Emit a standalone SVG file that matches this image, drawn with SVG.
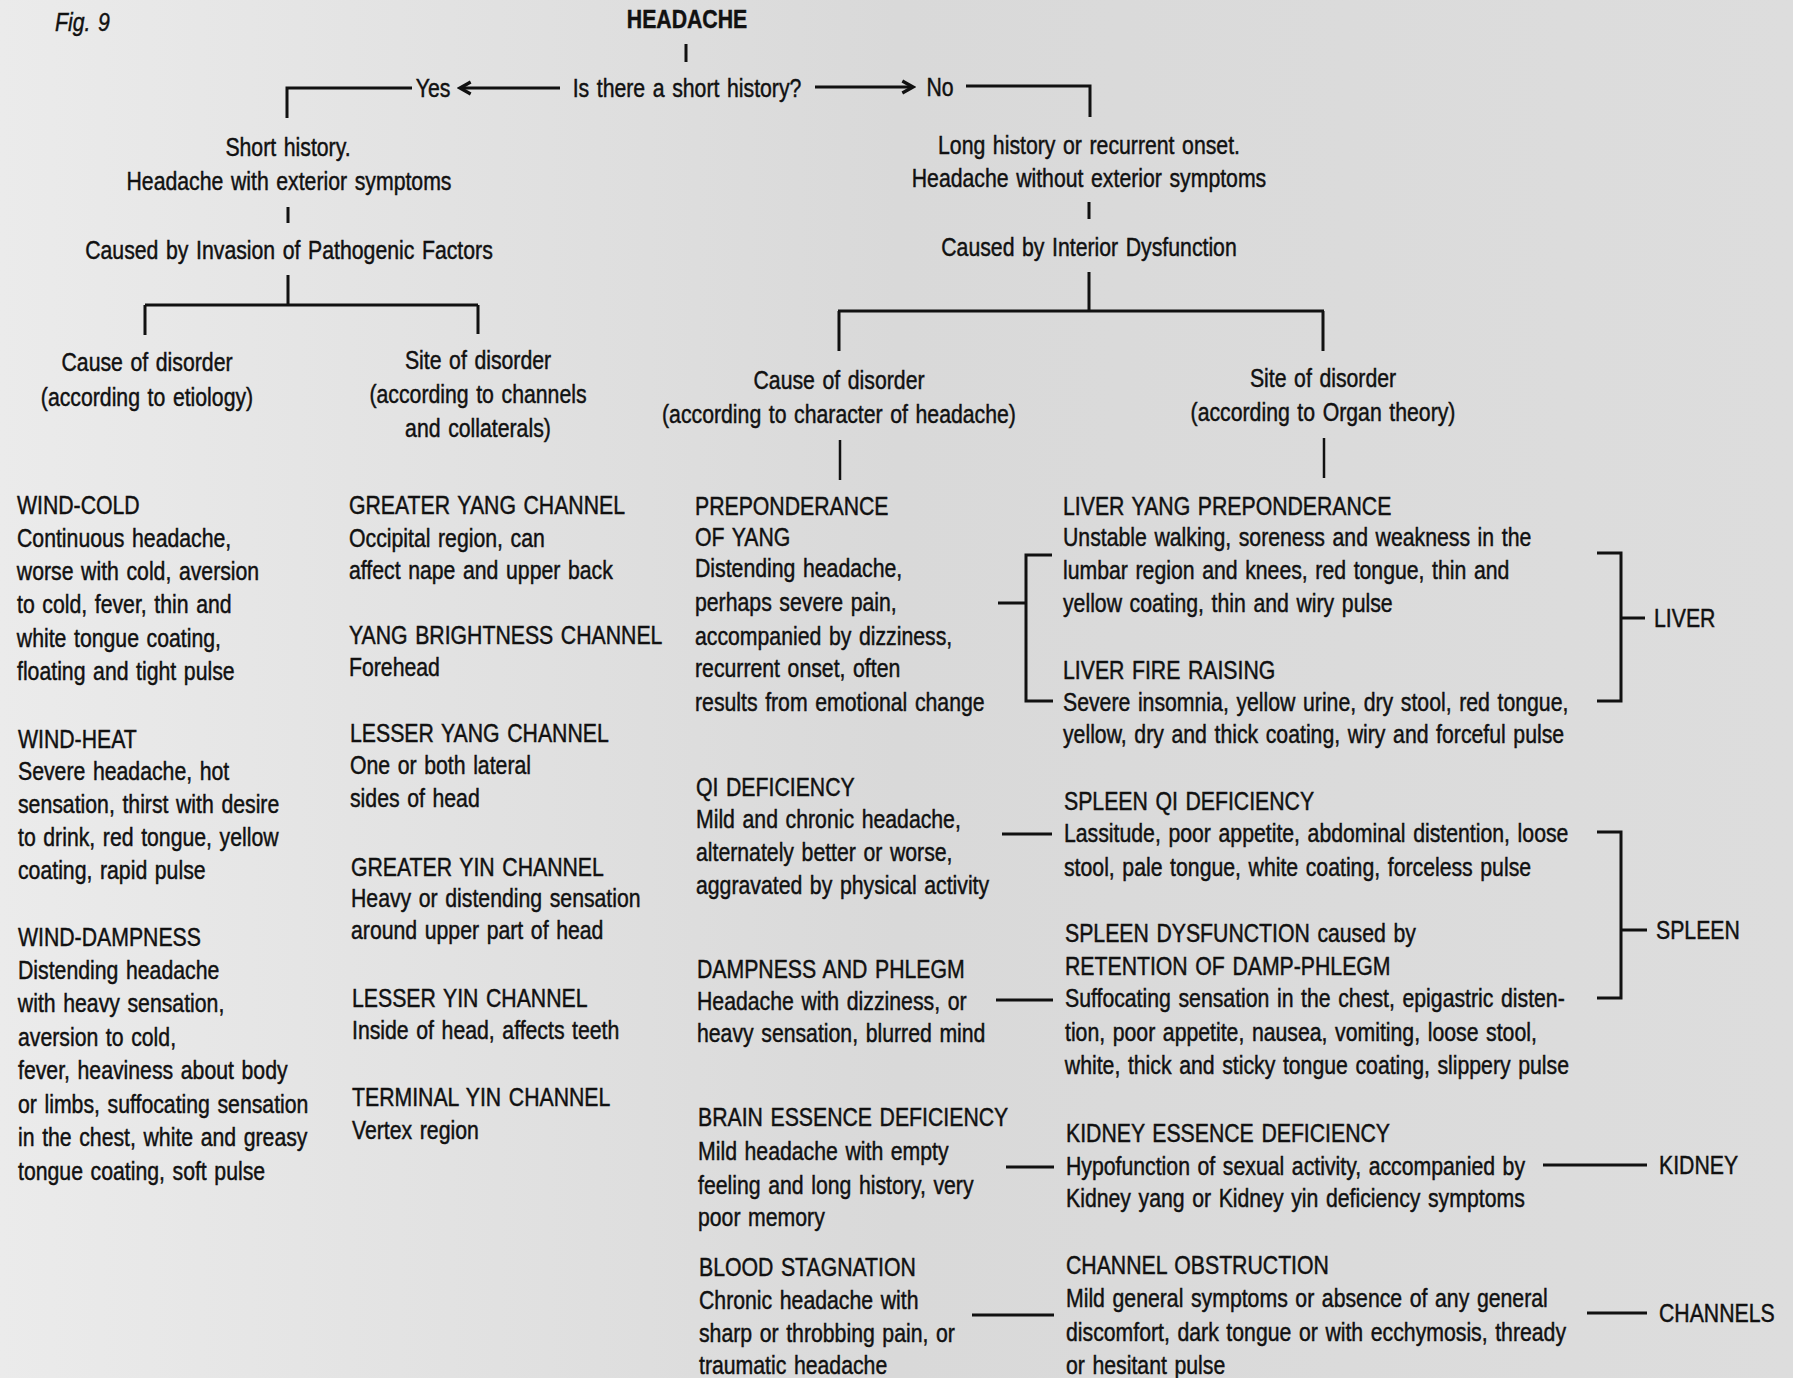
<svg xmlns="http://www.w3.org/2000/svg" width="1793" height="1378" viewBox="0 0 1793 1378">
<style>
.t{font-family:"Liberation Sans",Arial,sans-serif;font-size:25px;fill:#111;stroke:#111;stroke-width:0.45;word-spacing:2px;transform-box:fill-box;transform-origin:0 0;transform:scaleX(0.85)}
.c{text-anchor:middle;transform-origin:50% 0}
.b{font-weight:bold}
.ln{fill:none;stroke:#111;stroke-width:3}
.thin{stroke-width:2.5}
</style>
<defs>
<linearGradient id="bg" x1="0" y1="0" x2="1" y2="0">
<stop offset="0" stop-color="#ebebeb"/>
<stop offset="0.5" stop-color="#d9d9d9"/>
<stop offset="1" stop-color="#dddddd"/>
</linearGradient>
<marker id="ah" viewBox="0 0 12 12" refX="10" refY="6" markerWidth="16" markerHeight="16" markerUnits="userSpaceOnUse" orient="auto">
<path d="M2,1.5 L10,6 L2,10.5" fill="none" stroke="#111" stroke-width="2.4"/>
</marker>
</defs>
<rect x="0" y="0" width="1793" height="1378" fill="url(#bg)"/>

<text class="t" x="55" y="31" font-style="italic" font-size="23">Fig. 9</text>

<g id="connectors">
<path class="ln" d="M686 44V62"/>
<path class="ln" d="M560 88H460" marker-end="url(#ah)"/>
<path class="ln" d="M815 87H913" marker-end="url(#ah)"/>
<path class="ln" d="M412 88H287V118"/>
<path class="ln" d="M966 86H1090V117"/>
<path class="ln" d="M288 207V223"/>
<path class="ln" d="M288 275V305M145 305H478M145 305V335M478 305V334"/>
<path class="ln" d="M1089 202V219"/>
<path class="ln" d="M1089 272V311M838 311H1324M839 311V351M1323 311V351"/>
<path class="ln thin" d="M840 440V480"/>
<path class="ln thin" d="M1324 438V478"/>
<path class="ln" d="M998 603H1026M1052 555H1026V701H1053"/>
<path class="ln" d="M1597 553H1621V701H1597M1621 618H1645"/>
<path class="ln" d="M1002 834H1052"/>
<path class="ln" d="M996 1000H1053"/>
<path class="ln" d="M1597 832H1621V998H1597M1621 930H1647"/>
<path class="ln" d="M1006 1167H1054M1543 1165H1647"/>
<path class="ln" d="M972 1315H1054M1587 1313H1647"/>
</g>

<g id="headache"><text class="t c b" x="687" y="28">HEADACHE</text></g>
<g id="question"><text class="t c" x="687" y="97">Is there a short history?</text></g>
<g id="yes"><text class="t c" x="433" y="97">Yes</text></g>
<g id="no"><text class="t c" x="940" y="96">No</text></g>

<g id="short-history">
<text class="t c" x="288" y="156">Short history.</text>
<text class="t c" x="289" y="190">Headache with exterior symptoms</text>
</g>
<g id="caused-invasion"><text class="t c" x="289" y="259">Caused by Invasion of Pathogenic Factors</text></g>
<g id="cause-etiology">
<text class="t c" x="147" y="371">Cause of disorder</text>
<text class="t c" x="147" y="406">(according to etiology)</text>
</g>
<g id="site-channels">
<text class="t c" x="478" y="369">Site of disorder</text>
<text class="t c" x="478" y="403">(according to channels</text>
<text class="t c" x="478" y="437">and collaterals)</text>
</g>

<g id="long-history">
<text class="t c" x="1089" y="154">Long history or recurrent onset.</text>
<text class="t c" x="1089" y="187">Headache without exterior symptoms</text>
</g>
<g id="caused-interior"><text class="t c" x="1089" y="256">Caused by Interior Dysfunction</text></g>
<g id="cause-character">
<text class="t c" x="839" y="389">Cause of disorder</text>
<text class="t c" x="839" y="423">(according to character of headache)</text>
</g>
<g id="site-organ">
<text class="t c" x="1323" y="387">Site of disorder</text>
<text class="t c" x="1323" y="421">(according to Organ theory)</text>
</g>

<g id="wind-cold">
<text class="t" x="17" y="514">WIND-COLD</text>
<text class="t" x="17" y="547">Continuous headache,</text>
<text class="t" x="17" y="580">worse with cold, aversion</text>
<text class="t" x="17" y="613">to cold, fever, thin and</text>
<text class="t" x="17" y="647">white tongue coating,</text>
<text class="t" x="17" y="680">floating and tight pulse</text>
</g>
<g id="wind-heat">
<text class="t" x="18" y="748">WIND-HEAT</text>
<text class="t" x="18" y="780">Severe headache, hot</text>
<text class="t" x="18" y="813">sensation, thirst with desire</text>
<text class="t" x="18" y="846">to drink, red tongue, yellow</text>
<text class="t" x="18" y="879">coating, rapid pulse</text>
</g>
<g id="wind-dampness">
<text class="t" x="18" y="946">WIND-DAMPNESS</text>
<text class="t" x="18" y="979">Distending headache</text>
<text class="t" x="18" y="1012">with heavy sensation,</text>
<text class="t" x="18" y="1046">aversion to cold,</text>
<text class="t" x="18" y="1079">fever, heaviness about body</text>
<text class="t" x="18" y="1113">or limbs, suffocating sensation</text>
<text class="t" x="18" y="1146">in the chest, white and greasy</text>
<text class="t" x="18" y="1180">tongue coating, soft pulse</text>
</g>

<g id="greater-yang">
<text class="t" x="349" y="514">GREATER YANG CHANNEL</text>
<text class="t" x="349" y="547">Occipital region, can</text>
<text class="t" x="349" y="579">affect nape and upper back</text>
</g>
<g id="yang-brightness">
<text class="t" x="349" y="644">YANG BRIGHTNESS CHANNEL</text>
<text class="t" x="349" y="676">Forehead</text>
</g>
<g id="lesser-yang">
<text class="t" x="350" y="742">LESSER YANG CHANNEL</text>
<text class="t" x="350" y="774">One or both lateral</text>
<text class="t" x="350" y="807">sides of head</text>
</g>
<g id="greater-yin">
<text class="t" x="351" y="876">GREATER YIN CHANNEL</text>
<text class="t" x="351" y="907">Heavy or distending sensation</text>
<text class="t" x="351" y="939">around upper part of head</text>
</g>
<g id="lesser-yin">
<text class="t" x="352" y="1007">LESSER YIN CHANNEL</text>
<text class="t" x="352" y="1039">Inside of head, affects teeth</text>
</g>
<g id="terminal-yin">
<text class="t" x="352" y="1106">TERMINAL YIN CHANNEL</text>
<text class="t" x="352" y="1139">Vertex region</text>
</g>

<g id="preponderance-yang">
<text class="t" x="695" y="515">PREPONDERANCE</text>
<text class="t" x="695" y="546">OF YANG</text>
<text class="t" x="695" y="577">Distending headache,</text>
<text class="t" x="695" y="611">perhaps severe pain,</text>
<text class="t" x="695" y="645">accompanied by dizziness,</text>
<text class="t" x="695" y="677">recurrent onset, often</text>
<text class="t" x="695" y="711">results from emotional change</text>
</g>
<g id="qi-deficiency">
<text class="t" x="696" y="796">QI DEFICIENCY</text>
<text class="t" x="696" y="828">Mild and chronic headache,</text>
<text class="t" x="696" y="861">alternately better or worse,</text>
<text class="t" x="696" y="894">aggravated by physical activity</text>
</g>
<g id="dampness-phlegm">
<text class="t" x="697" y="978">DAMPNESS AND PHLEGM</text>
<text class="t" x="697" y="1010">Headache with dizziness, or</text>
<text class="t" x="697" y="1042">heavy sensation, blurred mind</text>
</g>
<g id="brain-essence">
<text class="t" x="698" y="1126">BRAIN ESSENCE DEFICIENCY</text>
<text class="t" x="698" y="1160">Mild headache with empty</text>
<text class="t" x="698" y="1194">feeling and long history, very</text>
<text class="t" x="698" y="1226">poor memory</text>
</g>
<g id="blood-stagnation">
<text class="t" x="699" y="1276">BLOOD STAGNATION</text>
<text class="t" x="699" y="1309">Chronic headache with</text>
<text class="t" x="699" y="1342">sharp or throbbing pain, or</text>
<text class="t" x="699" y="1374">traumatic headache</text>
</g>

<g id="liver-yang">
<text class="t" x="1063" y="515">LIVER YANG PREPONDERANCE</text>
<text class="t" x="1063" y="546">Unstable walking, soreness and weakness in the</text>
<text class="t" x="1063" y="579">lumbar region and knees, red tongue, thin and</text>
<text class="t" x="1063" y="612">yellow coating, thin and wiry pulse</text>
</g>
<g id="liver-fire">
<text class="t" x="1063" y="679">LIVER FIRE RAISING</text>
<text class="t" x="1063" y="711">Severe insomnia, yellow urine, dry stool, red tongue,</text>
<text class="t" x="1063" y="743">yellow, dry and thick coating, wiry and forceful pulse</text>
</g>
<g id="spleen-qi">
<text class="t" x="1064" y="810">SPLEEN QI DEFICIENCY</text>
<text class="t" x="1064" y="842">Lassitude, poor appetite, abdominal distention, loose</text>
<text class="t" x="1064" y="876">stool, pale tongue, white coating, forceless pulse</text>
</g>
<g id="spleen-dysfunction">
<text class="t" x="1065" y="942">SPLEEN DYSFUNCTION caused by</text>
<text class="t" x="1065" y="975">RETENTION OF DAMP-PHLEGM</text>
<text class="t" x="1065" y="1007">Suffocating sensation in the chest, epigastric disten-</text>
<text class="t" x="1065" y="1041">tion, poor appetite, nausea, vomiting, loose stool,</text>
<text class="t" x="1065" y="1074">white, thick and sticky tongue coating, slippery pulse</text>
</g>
<g id="kidney-essence">
<text class="t" x="1066" y="1142">KIDNEY ESSENCE DEFICIENCY</text>
<text class="t" x="1066" y="1175">Hypofunction of sexual activity, accompanied by</text>
<text class="t" x="1066" y="1207">Kidney yang or Kidney yin deficiency symptoms</text>
</g>
<g id="channel-obstruction">
<text class="t" x="1066" y="1274">CHANNEL OBSTRUCTION</text>
<text class="t" x="1066" y="1307">Mild general symptoms or absence of any general</text>
<text class="t" x="1066" y="1341">discomfort, dark tongue or with ecchymosis, thready</text>
<text class="t" x="1066" y="1374">or hesitant pulse</text>
</g>

<g id="liver"><text class="t" x="1654" y="627">LIVER</text></g>
<g id="spleen"><text class="t" x="1656" y="939">SPLEEN</text></g>
<g id="kidney"><text class="t" x="1659" y="1174">KIDNEY</text></g>
<g id="channels"><text class="t" x="1659" y="1322">CHANNELS</text></g>
</svg>
